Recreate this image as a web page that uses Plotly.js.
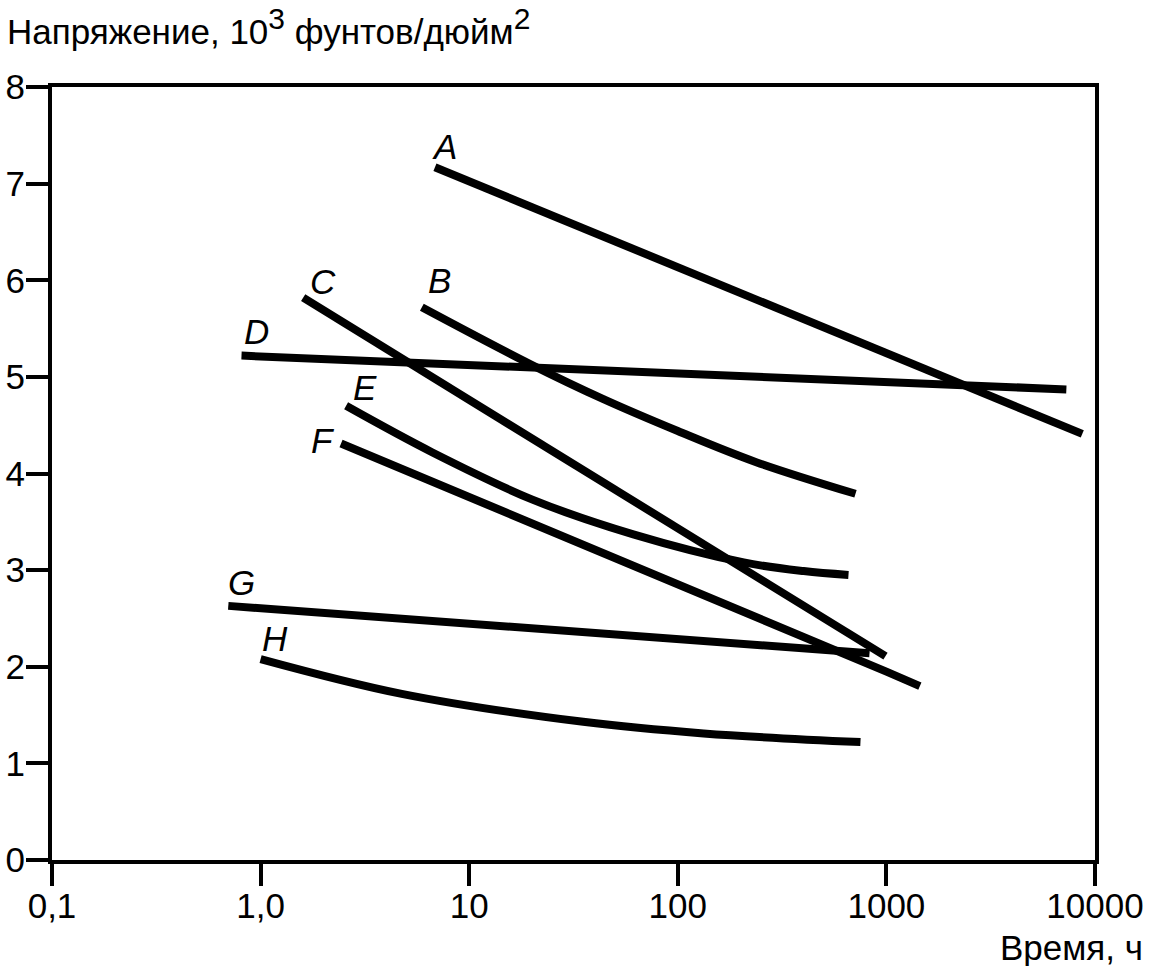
<!DOCTYPE html>
<html>
<head>
<meta charset="utf-8">
<script src="https://cdn.plot.ly/plotly-3.0.1.min.js"></script>
<style>
  html, body { margin: 0; padding: 0; background: white; }
  #chart { width: 1152px; height: 966px; }
</style>
</head>
<body>
<div id="chart"></div>
<script>
// Values (time in hours, stress in 10^3 psi)
const aTime = [6.85, 100, 1000, 8690];
const aStress = [7.17, 6.14, 5.25, 4.41];

const bTime = [5.93, 19.7, 44, 100, 236, 711];
const bStress = [5.72, 5.13, 4.77, 4.44, 4.12, 3.79];

const cTime = [1.6, 10, 100, 990];
const cStress = [5.82, 4.76, 3.43, 2.11];

const dTime = [0.81, 100, 7290];
const dStress = [5.22, 5.04, 4.87];

const eTime = [2.57, 6.63, 20.1, 61.2, 207, 401, 658];
const eStress = [4.70, 4.22, 3.73, 3.37, 3.08, 2.99, 2.95];

const fTime = [2.43, 10, 100, 1000, 1447];
const fStress = [4.31, 3.76, 2.86, 1.95, 1.80];

const gTime = [0.70, 10, 100, 830];
const gStress = [2.63, 2.45, 2.28, 2.14];

const hTime = [1.0, 4.75, 35.2, 133, 751];
const hStress = [2.08, 1.72, 1.43, 1.31, 1.22];

const curveNames = ['A', 'B', 'C', 'D', 'E', 'F', 'G', 'H'];
const curveTimes = [aTime, bTime, cTime, dTime, eTime, fTime, gTime, hTime];
const curveStress = [aStress, bStress, cStress, dStress, eStress, fStress, gStress, hStress];
const curvedOnes = ['B', 'E', 'H'];

const xTickVals = [0.1, 1, 10, 100, 1000, 10000];
const xTickText = ['0,1', '1,0', '10', '100', '1000', '10000'];
const yTickVals = [0, 1, 2, 3, 4, 5, 6, 7, 8];

// pixel offsets of each letter from the start of its curve
const labelShift = {
  A: [10, 21], B: [18, 27], C: [20, 16], D: [15, 24],
  E: [19, 18], F: [-18, 3], G: [13, 23], H: [14, 21]
};

const FONT = 'Liberation Sans, Arial, Helvetica, sans-serif';
const FS = 35;

const traces = curveNames.map((name, i) => ({
  x: curveTimes[i],
  y: curveStress[i],
  type: 'scatter',
  mode: 'lines',
  name: name,
  line: curvedOnes.includes(name)
    ? { color: 'black', width: 8, shape: 'spline', smoothing: 1 }
    : { color: 'black', width: 8, shape: 'linear' },
  hoverinfo: 'x+y+name'
}));

const letterAnnotations = curveNames.map((name, i) => ({
  x: Math.log10(curveTimes[i][0]),
  y: curveStress[i][0],
  xref: 'x',
  yref: 'y',
  text: '<i>' + name + '</i>',
  showarrow: false,
  xanchor: 'center',
  yanchor: 'middle',
  xshift: labelShift[name][0],
  yshift: labelShift[name][1],
  font: { family: FONT, size: FS, color: 'black' }
}));

const axisCommon = {
  ticks: 'outside',
  ticklen: 22,
  tickwidth: 4,
  tickcolor: 'black',
  showline: true,
  linewidth: 4,
  linecolor: 'black',
  mirror: true,
  showgrid: false,
  zeroline: false,
  tickfont: { family: FONT, size: FS, color: 'black' }
};

const layout = {
  width: 1152,
  height: 966,
  margin: { l: 52, r: 57, t: 87, b: 106 },
  paper_bgcolor: 'white',
  plot_bgcolor: 'white',
  showlegend: false,
  font: { family: FONT, size: FS, color: 'black' },
  xaxis: Object.assign({}, axisCommon, {
    type: 'log',
    range: [-1, 4],
    tickvals: xTickVals,
    ticktext: xTickText,
    ticklabelstandoff: -10
  }),
  yaxis: Object.assign({}, axisCommon, {
    range: [0, 8],
    tickvals: yTickVals,
    ticklabelstandoff: -6
  }),
  annotations: [
    ...letterAnnotations,
    {
      xref: 'paper', yref: 'paper',
      x: -0.045, y: 1.078,
      xanchor: 'left', yanchor: 'middle',
      text: 'Напряжение, 10<sup><span style="font-size:30px">3</span></sup> фунтов/дюйм<sup><span style="font-size:30px">2</span></sup>',
      showarrow: false,
      font: { family: FONT, size: FS, color: 'black' }
    },
    {
      xref: 'paper', yref: 'paper',
      x: 1.048, y: -0.113,
      xanchor: 'right', yanchor: 'middle',
      text: 'Время, ч',
      showarrow: false,
      font: { family: FONT, size: FS, color: 'black' }
    }
  ]
};

Plotly.newPlot('chart', traces, layout, { displayModeBar: false, staticPlot: true });
</script>
</body>
</html>
